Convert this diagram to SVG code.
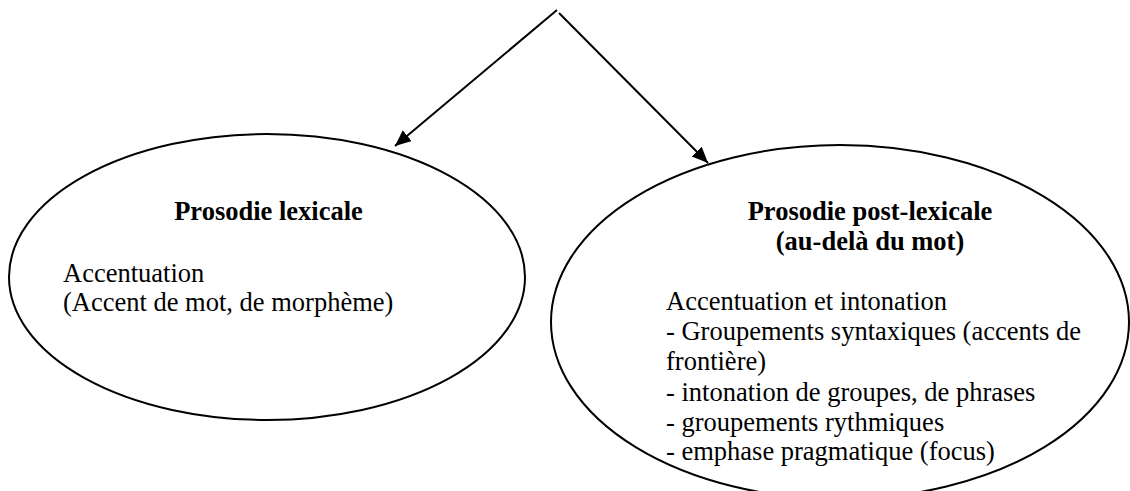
<svg xmlns="http://www.w3.org/2000/svg" width="1130" height="491" viewBox="0 0 1130 491">
<style>
.shape{fill:none;stroke:#000;stroke-width:2}
.conn{fill:none;stroke:#000;stroke-width:2}
.t{font-family:"Liberation Serif","Times New Roman",serif;font-size:26.5px;fill:#000}
.b{font-weight:bold;text-anchor:middle}
</style>
<defs>
<marker id="ah" markerUnits="userSpaceOnUse" markerWidth="17" markerHeight="15" refX="16" refY="7" orient="auto">
<path d="M0,0 L16,7 L0,14 z" fill="#000"/>
</marker>
</defs>
<rect width="1130" height="491" fill="#fff"/>
<g id="connectors">
<line class="conn" x1="557" y1="10" x2="395" y2="146" marker-end="url(#ah)"/>
<line class="conn" x1="559" y1="13" x2="708" y2="163" marker-end="url(#ah)"/>
</g>
<g id="lexicale">
<ellipse class="shape" cx="267" cy="277" rx="258" ry="143"/>
<text class="t b" x="268.5" y="220">Prosodie lexicale</text>
<text class="t" x="63" y="282">Accentuation</text>
<text class="t" x="63" y="311">(Accent de mot, de morphème)</text>
</g>
<g id="post-lexicale">
<ellipse class="shape" cx="840" cy="322" rx="289" ry="177"/>
<text class="t b" x="870" y="220">Prosodie post-lexicale</text>
<text class="t b" x="870" y="250">(au-delà du mot)</text>
<text class="t" x="666" y="310">Accentuation et intonation</text>
<text class="t" x="666" y="340">- Groupements syntaxiques (accents de</text>
<text class="t" x="666" y="370">frontière)</text>
<text class="t" x="666" y="401">- intonation de groupes, de phrases</text>
<text class="t" x="666" y="431">- groupements rythmiques</text>
<text class="t" x="666" y="460">- emphase pragmatique (focus)</text>
</g>
</svg>
